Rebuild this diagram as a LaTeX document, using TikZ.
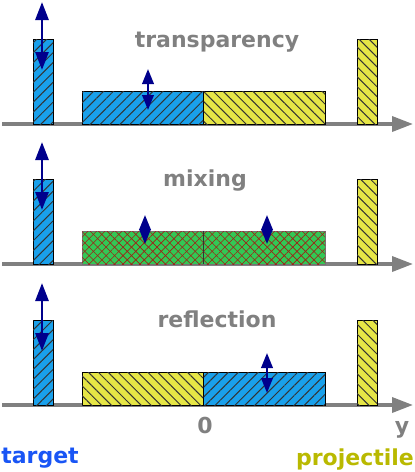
\documentclass[tikz,border=0pt]{standalone}
\usepackage{fontspec}
\setmainfont{DejaVu Sans}
\usetikzlibrary{arrows.meta, patterns.meta, positioning}
\definecolor{targetblue}{RGB}{25,160,235}
\definecolor{projyellow}{RGB}{230,230,70}
\definecolor{mixgreen}{RGB}{50,200,85}
\definecolor{hatchred}{RGB}{160,30,20}
\definecolor{arrownavy}{RGB}{0,0,140}
\definecolor{labelgray}{RGB}{128,128,128}
\definecolor{targettext}{RGB}{25,85,245}
\definecolor{projtext}{RGB}{185,185,0}

\begin{document}
\begin{tikzpicture}[
			x=1pt, y=-1pt,
			box/.style={rectangle, draw=black, line width=0.9pt, anchor=south west, inner sep=0pt, outer sep=0pt},
			bar/.style={box, minimum width=20pt, minimum height=85pt},
			slab/.style={box, minimum width=121.5pt, minimum height=33pt},
			bluefill/.style={fill=targetblue, postaction={pattern={Lines[angle=45, distance=7pt, line width=1pt]}, pattern color=black!80}},
			yellowfill/.style={fill=projyellow, postaction={pattern={Lines[angle=-45, distance=7pt, line width=1pt]}, pattern color=black!80}},
			mixfill/.style={draw=black!55, fill=mixgreen, postaction={pattern={Lines[angle=45, distance=6pt, line width=0.6pt]}, pattern color=hatchred}, postaction={pattern={Lines[angle=-45, distance=6pt, line width=0.6pt]}, pattern color=hatchred}},
			axisline/.style={labelgray, line width=3.5pt, -{Triangle[length=21pt, width=15pt]}},
			bigarrow/.style={arrownavy, line width=2.8pt, {Triangle[length=18pt, width=13pt]}-{Triangle[length=18pt, width=13pt]}},
			smallarrow/.style={arrownavy, line width=2.2pt, {Triangle[length=15pt, width=11.5pt]}-{Triangle[length=15pt, width=11.5pt]}},
			title/.style={font=\fontsize{22}{26}\selectfont\bfseries, text=labelgray, anchor=base},
			caption/.style={font=\fontsize{22}{26}\selectfont\bfseries, anchor=base}
		]
		\useasboundingbox (0,0) rectangle (415,472);
		
		% common parts of the three panels
		\foreach \p/\yy in {1/124, 2/264, 3/405} {
			\coordinate (axstart\p) at (2,\yy);
			\coordinate (axend\p) at (413,\yy);
			\draw[axisline] (axstart\p) -- (axend\p);
			\node[bar, bluefill] (tgt\p) at (33,\yy) {};
			\node[bar, yellowfill] (proj\p) at (357,\yy) {};
			\coordinate (tgtlow\p) at (42,\yy-54);
			\coordinate (tgthigh\p) at (42,\yy-122);
			\draw[bigarrow] (tgtlow\p) -- (tgthigh\p);
		}
		
		% transparency
		\node[title] (ttl1) at (217,47) {transparency};
		\node[slab, bluefill] (left1) at (82,124) {};
		\node[slab, yellowfill, right=0pt of left1] (right1) {};
		\coordinate (sa1) at (148,110);
		\coordinate (sb1) at (148,69);
		\draw[smallarrow] (sa1) -- (sb1);
		
		% mixing
		\node[title] (ttl2) at (205,186) {mixing};
		\node[slab, mixfill] (left2) at (82,264) {};
		\node[slab, mixfill, right=0pt of left2] (right2) {};
		\draw[black!80, line width=0.9pt] (left2.north east) -- (left2.south east);
		\coordinate (sa2) at (145,244);
		\coordinate (sb2) at (145,215);
		\coordinate (sc2) at (267,244);
		\coordinate (sd2) at (267,215);
		\draw[smallarrow] (sa2) -- (sb2);
		\draw[smallarrow] (sc2) -- (sd2);
		
		% reflection
		\node[title] (ttl3) at (217,327) {reflection};
		\node[slab, yellowfill] (left3) at (82,405) {};
		\node[slab, bluefill, right=0pt of left3] (right3) {};
		\coordinate (sa3) at (267,393);
		\coordinate (sb3) at (267,353);
		\draw[smallarrow] (sa3) -- (sb3);
		
		% labels below
		\node[caption, text=labelgray] (zero) at (205,433) {0};
		\node[caption, text=labelgray] (ylab) at (402,433) {y};
		\node[caption, text=targettext] (tgtlab) at (40,463) {target};
		\node[caption, text=projtext] (projlab) at (355,465) {projectile};
\end{tikzpicture}
\end{document}
